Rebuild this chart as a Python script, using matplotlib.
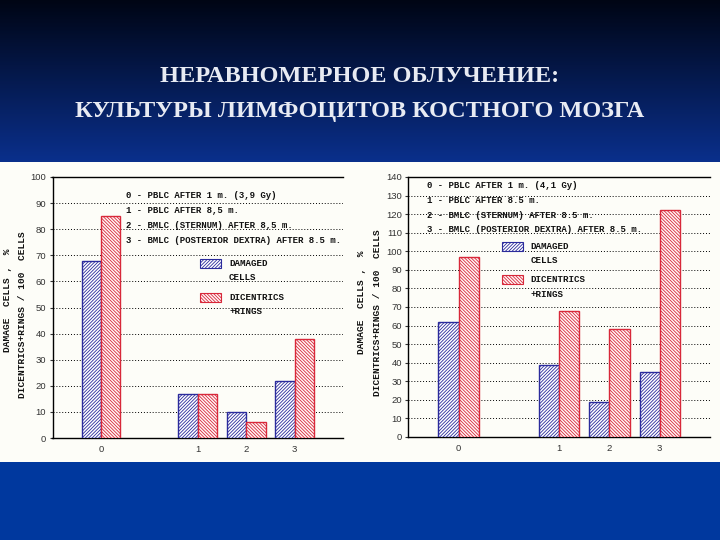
import numpy as np
import matplotlib
matplotlib.use("Agg")
import matplotlib.pyplot as plt
from matplotlib.patches import Rectangle

# ---------- data ----------
categories = ['0', '1', '2', '3']

left_damaged = [68, 17, 10, 22]
left_dicentrics = [85, 17, 6, 38]
left_notes = ["0 - PBLC AFTER 1 m. (3,9 Gy)",
              "1 - PBLC AFTER 8,5 m.",
              "2 - BMLC (STERNUM) AFTER 8,5 m.",
              "3 - BMLC (POSTERIOR DEXTRA) AFTER 8.5 m."]

right_damaged = [62, 39, 19, 35]
right_dicentrics = [97, 68, 58, 122]
right_notes = ["0 - PBLC AFTER 1 m. (4,1 Gy)",
               "1 - PBLC AFTER 8.5 m.",
               "2 - BMLC (STERNUM) AFTER 8.5 m.",
               "3 - BMLC (POSTERIOR DEXTRA) AFTER 8.5 m."]

title_lines = ["НЕРАВНОМЕРНОЕ ОБЛУЧЕНИЕ:",
               "КУЛЬТУРЫ ЛИМФОЦИТОВ КОСТНОГО МОЗГА"]
ylab_1 = "DAMAGE  CELLS ,  %"
ylab_2 = "DICENTRICS+RINGS / 100  CELLS"
leg_damaged = ["DAMAGED", "CELLS"]
leg_dicentrics = ["DICENTRICS", "+RINGS"]

# layout: slot 1 is left empty after category 0
SLOTS = [0, 2, 3, 4]
BAR_W = 0.4

W, H = 720, 540
BLUE_EDGE = '#2b2b9c'
RED_EDGE = '#d8283a'
HATCH_B = '/' * 10
HATCH_R = '\\' * 10
MONO = 'Liberation Mono'

plt.rcParams['hatch.linewidth'] = 0.6
plt.rcParams['font.family'] = 'Liberation Sans'


def fx(x):
    return x / W


def fy(y):
    return 1 - y / H


fig = plt.figure(figsize=(7.2, 5.4), dpi=100)

# ---------- background ----------
bg = fig.add_axes([0, 0, 1, 1], zorder=-10)
grad = np.zeros((H, 1, 3))
t = np.clip(np.arange(H) / 165.0, 0, 1)[:, None]
top = np.array([0.0, 0.02, 0.08])
mid = np.array([0.04, 0.19, 0.56])
grad[:, 0, :] = top + (mid - top) * t
grad[462:, 0, :] = np.array([0.0, 0.22, 0.62])
bg.imshow(grad, aspect='auto', extent=(0, W, H, 0))
bg.add_patch(Rectangle((0, 162), W, 300, facecolor='#fdfdf8', edgecolor='none'))
bg.set_xlim(0, W)
bg.set_ylim(H, 0)
bg.axis('off')

for i, line in enumerate(title_lines):
    fig.text(0.5, fy(77 + i * 35), line, ha='center', va='center',
             family='Liberation Serif', weight='bold', fontsize=17.5,
             color='#e8ebf3')


def draw_chart(rect, damaged, dicentrics, ymax, notes, note_xy, leg_xy, ylab_xy):
    ax = fig.add_axes(rect)
    xs = np.array(SLOTS, dtype=float)
    ax.bar(xs - BAR_W / 2, damaged, BAR_W, facecolor='white',
           edgecolor=BLUE_EDGE, hatch=HATCH_B, linewidth=1.0, zorder=3)
    ax.bar(xs + BAR_W / 2, dicentrics, BAR_W, facecolor='#fff6f6',
           edgecolor=RED_EDGE, hatch=HATCH_R, linewidth=1.0, zorder=3)

    ax.set_xlim(-1, 5)
    ax.set_ylim(0, ymax)
    ax.set_xticks(xs)
    ax.set_xticklabels(categories)
    ax.set_yticks(np.arange(0, ymax + 1, 10))
    ax.tick_params(labelsize=6.8, colors='#333333', length=2, pad=2.5)
    ax.tick_params(axis='x', length=0, pad=5)
    ax.set_facecolor('none')

    for v in np.arange(10, ymax, 10):
        ax.axhline(v, color='black', linewidth=0.7, linestyle=(0, (1, 2)), zorder=1)

    ax.spines['right'].set_visible(False)
    for s in ['top', 'left', 'bottom']:
        ax.spines[s].set_linewidth(1.0)

    # notes with category legend
    nx, ny = note_xy
    for i, line in enumerate(notes):
        fig.text(fx(nx), fy(ny + i * 14.7), line, ha='left', va='center',
                 family=MONO, weight='bold', fontsize=6.5, color='#111111')

    # legend for the two series
    lx, ly = leg_xy
    for j, (edge, hatch, face, texts) in enumerate([
            (BLUE_EDGE, HATCH_B, 'white', leg_damaged),
            (RED_EDGE, HATCH_R, '#fff6f6', leg_dicentrics)]):
        y0 = ly + j * 33.5
        fig.add_artist(Rectangle((fx(lx), fy(y0 + 9)), 21 / W, 9 / H,
                                 transform=fig.transFigure, facecolor=face,
                                 edgecolor=edge, hatch=hatch, linewidth=0.8))
        fig.text(fx(lx + 29), fy(y0 + 4.5), texts[0], ha='left', va='center',
                 family=MONO, weight='bold', fontsize=6.6, color='#111111')
        fig.text(fx(lx + 29), fy(y0 + 19), texts[1], ha='left', va='center',
                 family=MONO, weight='bold', fontsize=6.6, color='#111111')

    (x1, y1), (x2, y2) = ylab_xy
    fig.text(fx(x1), fy(y1), ylab_1, rotation=90, ha='center', va='center',
             family=MONO, weight='bold', fontsize=6.8, color='#111111')
    fig.text(fx(x2), fy(y2), ylab_2, rotation=90, ha='center', va='center',
             family=MONO, weight='bold', fontsize=6.8, color='#111111')
    return ax


draw_chart([fx(52.5), fy(438), 290.5 / W, 261 / H],
           left_damaged, left_dicentrics, 100, left_notes,
           (126, 196), (200, 259), ((8, 300), (23, 315)))

draw_chart([fx(408.3), fy(437), 301.7 / W, 260 / H],
           right_damaged, right_dicentrics, 140, right_notes,
           (426.7, 185.7), (501.7, 241.7), ((362, 302), (377, 313)))

fig.savefig('out.png', dpi=100)
